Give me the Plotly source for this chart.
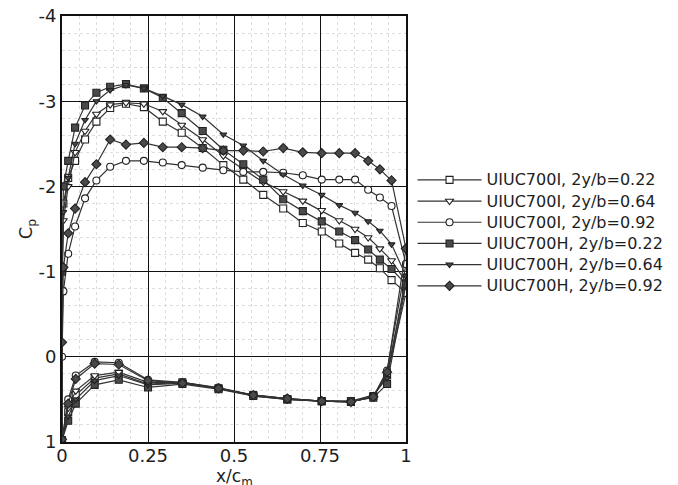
import plotly.graph_objects as go

# ---------------- data ----------------
x_upper = [0.0, 0.004, 0.018, 0.038, 0.067, 0.10, 0.14, 0.186, 0.238, 0.293, 0.348, 0.409,
           0.469, 0.527, 0.585, 0.643, 0.70, 0.755, 0.806, 0.852, 0.89, 0.924, 0.958, 1.0]
x_lower = [0.0, 0.018, 0.04, 0.095, 0.165, 0.25, 0.35, 0.455, 0.556, 0.655, 0.755, 0.84,
           0.905, 0.945, 1.0]

cp_up_I022 = [-0.77, -1.80, -2.10, -2.30, -2.55, -2.76, -2.92, -2.97, -2.93, -2.76, -2.63, -2.45,
              -2.25, -2.08, -1.90, -1.74, -1.57, -1.47, -1.33, -1.22, -1.14, -1.04, -0.90, -0.75]
cp_up_I064 = [-0.77, -1.60, -2.00, -2.40, -2.65, -2.85, -2.96, -2.98, -2.97, -2.88, -2.72, -2.55,
              -2.36, -2.20, -2.05, -1.94, -1.83, -1.72, -1.60, -1.50, -1.40, -1.27, -1.13, -0.88]
cp_up_I092 = [0.0, -0.77, -1.21, -1.53, -1.86, -2.07, -2.23, -2.30, -2.30, -2.28, -2.25, -2.22,
              -2.19, -2.17, -2.17, -2.16, -2.13, -2.08, -2.08, -2.08, -1.96, -1.87, -1.77, -1.09]
cp_up_H022 = [-1.00, -2.00, -2.30, -2.69, -2.95, -3.10, -3.17, -3.20, -3.15, -3.04, -2.86, -2.65,
              -2.43, -2.26, -2.08, -1.85, -1.71, -1.59, -1.47, -1.37, -1.26, -1.14, -1.03, -0.85]
cp_up_H064 = [-1.00, -1.70, -2.10, -2.50, -2.78, -3.00, -3.13, -3.19, -3.15, -3.06, -2.96, -2.82,
              -2.61, -2.48, -2.30, -2.14, -2.01, -1.90, -1.78, -1.69, -1.59, -1.48, -1.32, -0.95]
cp_up_H092 = [-0.17, -1.05, -1.45, -1.74, -2.05, -2.26, -2.55, -2.49, -2.51, -2.46, -2.46, -2.45,
              -2.42, -2.42, -2.41, -2.45, -2.40, -2.39, -2.39, -2.39, -2.30, -2.20, -2.07, -1.27]

cp_lo_I022 = [0.98, 0.65, 0.45, 0.25, 0.20, 0.32, 0.30, 0.37, 0.45, 0.50, 0.52, 0.53, 0.46, 0.22, -0.75]
cp_lo_I064 = [0.98, 0.60, 0.40, 0.22, 0.18, 0.30, 0.30, 0.37, 0.45, 0.49, 0.52, 0.53, 0.47, 0.20, -0.88]
cp_lo_I092 = [0.97, 0.50, 0.22, 0.06, 0.07, 0.27, 0.30, 0.36, 0.45, 0.49, 0.52, 0.53, 0.47, 0.16, -1.09]
cp_lo_H022 = [0.98, 0.75, 0.55, 0.33, 0.27, 0.36, 0.32, 0.38, 0.46, 0.50, 0.52, 0.52, 0.48, 0.32, -0.85]
cp_lo_H064 = [0.98, 0.70, 0.50, 0.28, 0.22, 0.33, 0.31, 0.37, 0.46, 0.50, 0.52, 0.52, 0.45, 0.25, -0.95]
cp_lo_H092 = [0.97, 0.55, 0.26, 0.08, 0.09, 0.28, 0.31, 0.37, 0.45, 0.49, 0.52, 0.53, 0.47, 0.18, -1.27]

series_names = ["UIUC700I, 2y/b=0.22", "UIUC700I, 2y/b=0.64", "UIUC700I, 2y/b=0.92",
                "UIUC700H, 2y/b=0.22", "UIUC700H, 2y/b=0.64", "UIUC700H, 2y/b=0.92"]

x_tick_vals = [0, 0.25, 0.5, 0.75, 1]
x_tick_text = ["0", "0.25", "0.5", "0.75", "1"]
y_tick_vals = [-4, -3, -2, -1, 0, 1]
y_tick_text = ["-4", "-3", "-2", "-1", "0", "1"]

# ---------------- styling ----------------
upper = [cp_up_I022, cp_up_I064, cp_up_I092, cp_up_H022, cp_up_H064, cp_up_H092]
lower = [cp_lo_I022, cp_lo_I064, cp_lo_I092, cp_lo_H022, cp_lo_H064, cp_lo_H092]
symbols = ["square", "triangle-down", "circle", "square", "triangle-down", "diamond"]
fills = ["white", "white", "white", "#4a4a4a", "#4a4a4a", "#4a4a4a"]
sizes = [7, 7, 7, 7, 6, 7]

FONT = "DejaVu Sans, Liberation Sans, Arial, sans-serif"
INK = "#1e1e1e"

fig = go.Figure()
for name, up, lo, sym, fc, sz in zip(series_names, upper, lower, symbols, fills, sizes):
    xs = x_upper[::-1] + x_lower
    ys = up[::-1] + lo
    fig.add_trace(go.Scatter(
        x=xs, y=ys, mode="lines+markers",
        name='<span style="font-size:16px">' + name + '</span>',
        line=dict(color="#333333", width=1.2),
        marker=dict(symbol=sym, size=sz, color=fc,
                    line=dict(color="#222222", width=1.1)),
    ))

# page body has an 8px margin, so the figure is sized/placed to compensate
fig.update_layout(
    width=670, height=477,
    margin=dict(l=54, r=272, t=8, b=43, autoexpand=False),
    paper_bgcolor="white", plot_bgcolor="white",
    font=dict(family=FONT, color=INK, size=16),
    showlegend=True,
    legend=dict(x=1.019, y=0.652, xanchor="left", yanchor="top",
                font=dict(family=FONT, size=14, color=INK),
                bgcolor="rgba(0,0,0,0)", tracegroupgap=0, itemwidth=64),
    annotations=[dict(text="x/c<sub>m</sub>", xref="paper", yref="paper",
                      x=0.5, y=-0.052, xanchor="center", yanchor="top",
                      showarrow=False, font=dict(family=FONT, size=17, color=INK))],
)

fig.update_xaxes(
    range=[0, 1], tickvals=x_tick_vals, ticktext=x_tick_text, automargin=False,
    showgrid=True, gridcolor="#111111", gridwidth=1.3,
    showline=True, linecolor="#111111", linewidth=2, mirror=True,
    zeroline=False, ticks="", ticklabelstandoff=-4, ticklabeloverflow="allow",
    tickfont=dict(family=FONT, size=18, color=INK),
    minor=dict(dtick=0.05, tick0=0, showgrid=True, gridcolor="#dddddd", griddash="dot", gridwidth=1),
)
fig.update_yaxes(
    range=[1, -4], tickvals=y_tick_vals, ticktext=y_tick_text, automargin=False,
    showgrid=True, gridcolor="#111111", gridwidth=1.3,
    showline=True, linecolor="#111111", linewidth=2, mirror=True,
    zeroline=False, ticks="", ticklabeloverflow="allow",
    tickfont=dict(family=FONT, size=18, color=INK),
    minor=dict(dtick=0.2, tick0=0, showgrid=True, gridcolor="#dddddd", griddash="dot", gridwidth=1),
    title=dict(text="C<sub>p</sub>", font=dict(family=FONT, size=18, color=INK), standoff=1),
)

fig.write_html("out.html")
